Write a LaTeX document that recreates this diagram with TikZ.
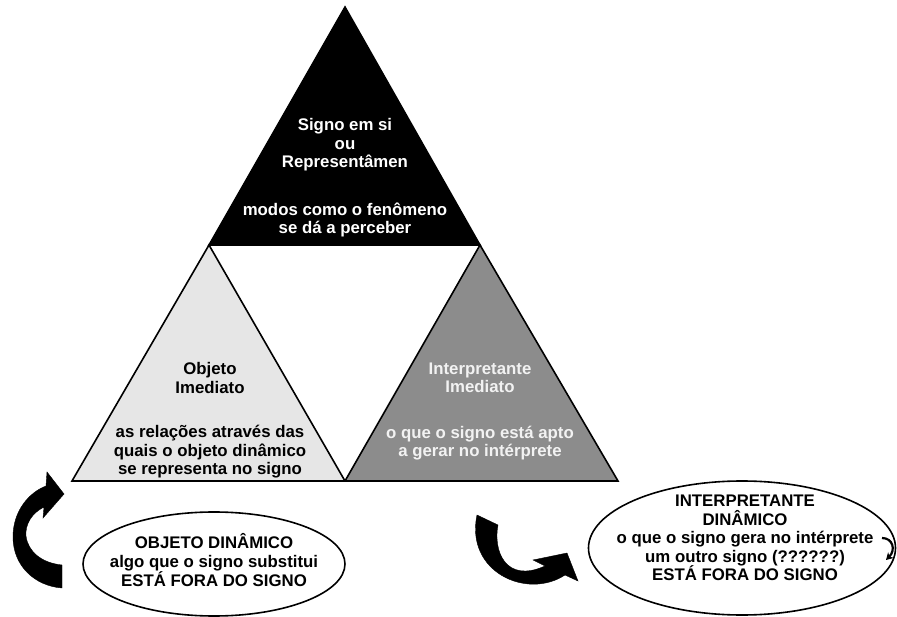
\documentclass[tikz,border=0pt]{standalone}
\usepackage{fontspec}
\setmainfont{Liberation Sans}
\usetikzlibrary{arrows.meta,shapes.geometric}
\definecolor{lightfill}{HTML}{E6E6E6}
\definecolor{darkfill}{HTML}{8C8C8C}
\definecolor{paletext}{HTML}{F2F2F2}
\begin{document}
\begin{tikzpicture}[x=1pt,y=-1pt,
  lbl/.style={font=\bfseries\fontsize{16.8}{18.6}\selectfont, align=center, inner sep=0pt},
  tri/.style={draw=black, line width=1.6pt, line join=miter},
  ell/.style={draw=black, fill=white, line width=1.6pt, ellipse, inner sep=0pt},
  bigarrow/.style={fill=black, draw=black, line width=0.4pt, line join=miter}]
\useasboundingbox (0,0) rectangle (897,617);
% triangles
\coordinate (tA) at (345,7);
\coordinate (tL) at (209,245);
\coordinate (tR) at (480,245);
\coordinate (lL) at (72,481);
\coordinate (mid) at (345,481);
\coordinate (rR) at (618,481);
\draw[tri, fill=black] (tA) -- (tL) -- (tR) -- cycle;
\draw[tri, fill=lightfill] (tL) -- (lL) -- (mid) -- cycle;
\draw[tri, fill=darkfill] (tR) -- (mid) -- (rR) -- cycle;
% texts in triangles
\node[lbl, text=white] (t1) at (345,145) {Signo em si\\ou\\Representâmen};
\node[lbl, text=white] (t2) at (345,220) {modos como o fenômeno\\se dá a perceber};
\node[lbl] (l1) at (210,378) {Objeto\\Imediato};
\node[lbl] (l2) at (210,452) {as relações através das\\quais o objeto dinâmico\\se representa no signo};
\node[lbl, text=paletext] (r1) at (480,378) {Interpretante\\Imediato};
\node[lbl, text=paletext] (r2) at (480,443) {o que o signo está apto\\a gerar no intérprete};
% ellipses
\node[ell, minimum width=262pt, minimum height=104pt] (e1) at (214,564) {};
\node[lbl] (e1t) at (214,560) {OBJETO DINÂMICO\\algo que o signo substitui\\ESTÁ FORA DO SIGNO};
\node[ell, minimum width=307pt, minimum height=134pt] (e2) at (742,548) {};
\node[lbl] (e2t) at (745,538) {INTERPRETANTE\\DINÂMICO\\o que o signo gera no intérprete\\um outro signo (??????)\\ESTÁ FORA DO SIGNO};
% left curved arrow
\fill[bigarrow] (62,565) -- (62,588)
  .. controls (35,586) and (13,566) .. (13,537)
  .. controls (13,510) and (30,492) .. (46,486)
  -- (47,472) -- (64,494) -- (43,518) -- (44,507)
  .. controls (32,513) and (25,524) .. (26,536)
  .. controls (28,552) and (42,563) .. (62,565) -- cycle;
% right curved arrow
\fill[bigarrow] (477,515) -- (498,525)
  .. controls (493,550) and (505,584) .. (545,566)
  -- (533,560) -- (567,553) -- (578,581) -- (565,575)
  .. controls (527,600) and (465,572) .. (477,515) -- cycle;
% small arrow
\coordinate (s0) at (882,538);
\coordinate (s1) at (886,560);
\draw[line width=2.2pt, -{Stealth[length=7pt,width=8pt]}] (s0) .. controls (893,538) and (896,550) .. (s1);
\end{tikzpicture}
\end{document}
